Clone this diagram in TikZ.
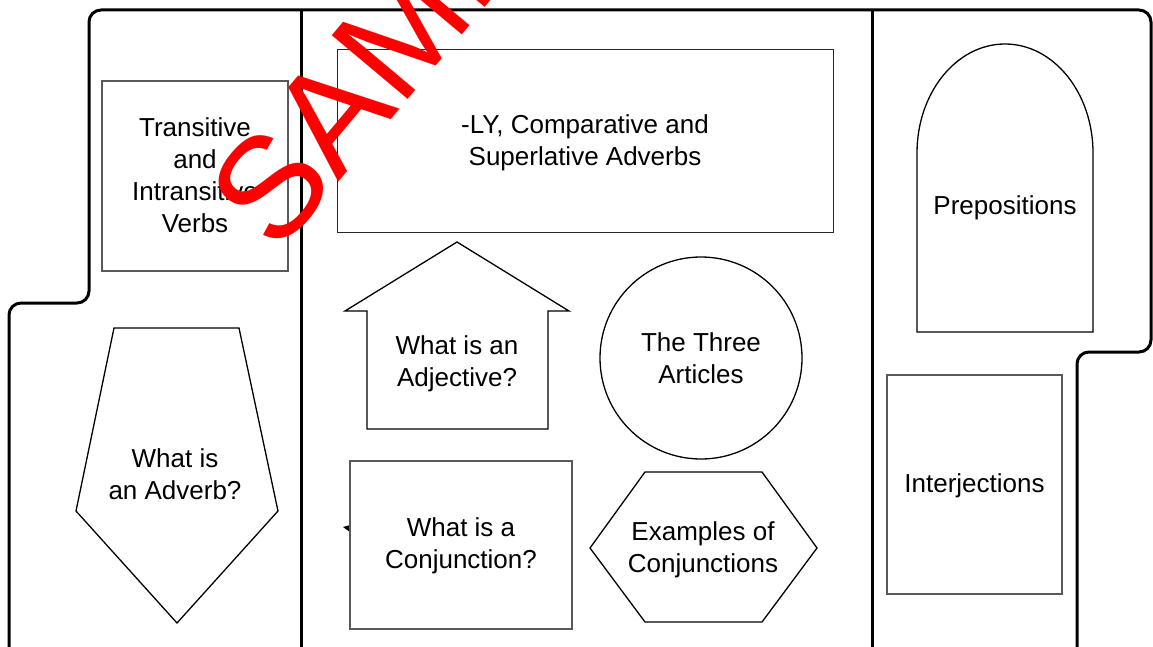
\documentclass[tikz,border=0pt]{standalone}
\usepackage{fontspec}
\setmainfont{Liberation Sans}
\begin{document}
\begin{tikzpicture}[x=1pt,y=-1pt,
  outline/.style={line width=3pt,line join=round},
  shapeline/.style={line width=1.3pt,line join=miter},
  greybox/.style={draw=black!65,line width=1.2pt,rectangle,inner sep=0pt},
  blackbox/.style={draw=black!85,line width=1pt,rectangle,inner sep=0pt},
  lbl/.style={font=\fontsize{26}{32}\selectfont,align=center,inner sep=0pt},
  wm/.style={text=red,font=\fontsize{144}{144}\selectfont,inner sep=0pt}]
\useasboundingbox (0,0) rectangle (1153,647);
\clip (0,0) rectangle (1153,647);
% outer folder outline
\draw[outline,rounded corners=12pt] (1077,680) -- (1077,352) -- (1151,352) -- (1151,10) -- (89,10) -- (89,303) -- (9,303) -- (9,680);
% column dividers
\coordinate (d1t) at (301,10); \coordinate (d1b) at (301,680);
\coordinate (d2t) at (872,10); \coordinate (d2b) at (872,680);
\draw[outline] (d1t) -- (d1b);
\draw[outline] (d2t) -- (d2b);
% left column
\node[greybox,minimum width=186pt,minimum height=190pt] (transbox) at (195,176) {};
\node[lbl] (trans) at (195,175) {Transitive\\and\\Intransitive\\Verbs};
\draw[shapeline] (114,328) -- (239,328) -- (278,511) -- (177,623) -- (76,511) -- cycle;
\node[lbl] (adverb) at (175,474) {What is\\an Adverb?};
% middle column
\node[blackbox,minimum width=496pt,minimum height=182pt] (lybox) at (585,141) {};
\node[lbl] (ly) at (585,143) {-LY, Comparative and\\Superlative Adverbs};
\draw[shapeline] (457,242) -- (569,311) -- (548,311) -- (548,429) -- (367,429) -- (367,311) -- (345,311) -- cycle;
\node[lbl] (adj) at (457,364) {What is an\\Adjective?};
\node[draw,line width=1.3pt,circle,minimum size=202pt,inner sep=0pt] (artbox) at (701,358) {};
\node[lbl] (art) at (701,358) {The Three\\Articles};
\fill (343,527) -- (350,525) -- (350,532) -- cycle;
\node[greybox,minimum width=222pt,minimum height=168pt] (conjbox) at (461,545) {};
\node[lbl] (conj) at (461,546) {What is a\\Conjunction?};
\draw[shapeline] (590,548) -- (645,472) -- (762,472) -- (817,548) -- (762,622) -- (645,622) -- cycle;
\node[lbl] (ex) at (703,550) {Examples of\\Conjunctions};
% right column
\draw[shapeline] (917,332) -- (917,153) arc[start angle=180,end angle=360,x radius=88,y radius=109] -- (1093,332) -- cycle;
\node[lbl] (prep) at (1005,208) {Prepositions};
\node[greybox,minimum width=175pt,minimum height=219pt] (interbox) at (974.5,484.5) {};
\node[lbl] (inter) at (974.5,486) {Interjections};
% watermark
\node[wm,rotate=50,anchor=base west] (mark) at (277,256) {SAMPLE};
\end{tikzpicture}
\end{document}
